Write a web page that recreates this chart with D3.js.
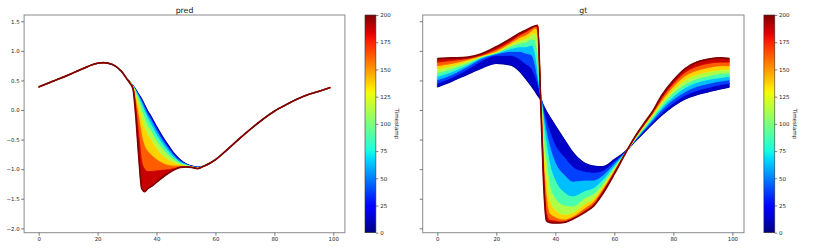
<!DOCTYPE html>
<html><head><meta charset="utf-8">
<script src="https://cdn.jsdelivr.net/npm/d3@7"></script>
<style>body{margin:0;background:#fff}svg{display:block}text{font-family:"DejaVu Sans",sans-serif;fill:#222}</style>
</head><body><svg id="c" width="830" height="249"></svg>
<script>
// ---------------- data ----------------
const timestamps = [0, 25, 50, 75, 100, 125, 150, 175, 200];
const xTicks = [0, 20, 40, 60, 80, 100];
const yTicks = [1.5, 1.0, 0.5, 0.0, -0.5, -1.0, -1.5, -2.0];
const cbTicks = [0, 25, 50, 75, 100, 125, 150, 175, 200];

// pred: all timestamps share these outer parts
const predLeftX = [0, 5, 10, 15, 20, 22, 25, 28];
const predLeftY = [0.39, 0.49, 0.59, 0.70, 0.79, 0.80, 0.77, 0.66];
const predRightX = [56, 60, 64, 68, 72, 76, 80, 84, 88, 92, 96, 99];
const predRightY = [-0.95, -0.84, -0.67, -0.49, -0.32, -0.16, -0.02, 0.09, 0.19, 0.27, 0.33, 0.38];
// pred: region where timestamps differ (one row per timestamp)
const predMidX = [30, 31, 32, 33, 34, 35, 36, 37, 38, 40, 42, 44, 46, 48, 50, 52, 54];
const predMid = [
  [0.53, 0.47, 0.41, 0.34, 0.26, 0.18, 0.08, -0.02, -0.10, -0.28, -0.45, -0.60, -0.74, -0.84, -0.91, -0.95, -0.97],
  [0.53, 0.47, 0.41, 0.33, 0.25, 0.16, 0.06, -0.05, -0.13, -0.31, -0.48, -0.63, -0.76, -0.85, -0.92, -0.95, -0.97],
  [0.53, 0.47, 0.41, 0.32, 0.23, 0.13, 0.02, -0.09, -0.17, -0.36, -0.52, -0.66, -0.78, -0.87, -0.92, -0.96, -0.97],
  [0.53, 0.47, 0.40, 0.31, 0.20, 0.08, -0.04, -0.15, -0.24, -0.43, -0.58, -0.71, -0.81, -0.89, -0.93, -0.96, -0.98],
  [0.53, 0.46, 0.40, 0.28, 0.14, -0.02, -0.15, -0.27, -0.35, -0.53, -0.66, -0.77, -0.85, -0.91, -0.94, -0.96, -0.98],
  [0.53, 0.46, 0.39, 0.22, 0.04, -0.18, -0.32, -0.43, -0.50, -0.66, -0.77, -0.85, -0.90, -0.93, -0.95, -0.97, -0.98],
  [0.52, 0.46, 0.38, 0.13, -0.15, -0.45, -0.62, -0.70, -0.75, -0.84, -0.90, -0.94, -0.95, -0.95, -0.96, -0.97, -0.99],
  [0.52, 0.45, 0.37, 0.02, -0.45, -0.88, -1.00, -1.04, -1.04, -1.03, -1.02, -1.01, -0.99, -0.97, -0.96, -0.97, -0.99],
  [0.52, 0.45, 0.36, -0.12, -0.80, -1.33, -1.38, -1.33, -1.30, -1.22, -1.14, -1.07, -1.01, -0.97, -0.96, -0.97, -0.99]
];

// gt: one row per timestamp
const gtX = [0, 5, 10, 15, 20, 25, 28, 30, 32, 33, 34, 35, 36, 37, 38, 40, 43, 46, 50, 53, 56, 60, 64, 67, 70, 73, 76, 80, 84, 88, 92, 96, 99];
const gtT0   = [0.39, 0.49, 0.60, 0.71, 0.79, 0.76, 0.65, 0.53, 0.40, 0.33, 0.25, 0.18, 0.07, -0.03, -0.11, -0.27, -0.50, -0.72, -0.90, -0.95, -0.96, -0.84, -0.69, -0.53, -0.38, -0.23, -0.09, 0.07, 0.19, 0.26, 0.31, 0.36, 0.39];
const gtT25  = [0.45, 0.55, 0.68, 0.83, 0.92, 0.92, 0.86, 0.78, 0.70, 0.60, 0.45, 0.25, 0.00, -0.20, -0.35, -0.60, -0.80, -0.97, -1.05, -1.07, -1.04, -0.88, -0.70, -0.52, -0.36, -0.20, -0.05, 0.12, 0.25, 0.33, 0.38, 0.43, 0.45];
const gtT50  = [0.51, 0.60, 0.73, 0.87, 0.95, 0.99, 0.99, 0.96, 0.93, 0.80, 0.55, 0.25, -0.08, -0.38, -0.60, -0.90, -1.10, -1.22, -1.20, -1.20, -1.12, -0.92, -0.70, -0.51, -0.34, -0.17, 0.00, 0.18, 0.31, 0.40, 0.45, 0.49, 0.51];
const gtT75  = [0.57, 0.65, 0.76, 0.89, 0.96, 1.04, 1.07, 1.07, 1.10, 1.00, 0.70, 0.25, -0.20, -0.60, -0.90, -1.20, -1.40, -1.47, -1.38, -1.33, -1.20, -0.96, -0.71, -0.50, -0.32, -0.14, 0.04, 0.23, 0.38, 0.47, 0.52, 0.55, 0.57];
const gtT100 = [0.63, 0.70, 0.79, 0.90, 0.97, 1.08, 1.13, 1.15, 1.20, 1.18, 0.95, 0.30, -0.45, -0.90, -1.25, -1.50, -1.62, -1.64, -1.50, -1.43, -1.27, -0.99, -0.71, -0.49, -0.30, -0.11, 0.08, 0.29, 0.44, 0.53, 0.58, 0.62, 0.63];
const gtT125 = [0.69, 0.75, 0.82, 0.91, 0.98, 1.11, 1.18, 1.21, 1.28, 1.30, 1.20, 0.30, -0.70, -1.20, -1.55, -1.70, -1.78, -1.75, -1.60, -1.51, -1.32, -1.02, -0.71, -0.48, -0.28, -0.08, 0.12, 0.34, 0.51, 0.60, 0.65, 0.68, 0.69];
const gtT150 = [0.75, 0.79, 0.85, 0.92, 1.00, 1.14, 1.23, 1.27, 1.34, 1.38, 1.35, 0.30, -0.90, -1.50, -1.75, -1.82, -1.86, -1.81, -1.67, -1.56, -1.36, -1.04, -0.71, -0.47, -0.26, -0.06, 0.16, 0.40, 0.58, 0.67, 0.72, 0.75, 0.75];
const gtT175 = [0.81, 0.84, 0.87, 0.93, 1.03, 1.17, 1.27, 1.32, 1.38, 1.41, 1.42, 0.25, -1.05, -1.75, -1.86, -1.88, -1.90, -1.84, -1.71, -1.60, -1.39, -1.06, -0.71, -0.46, -0.25, -0.04, 0.20, 0.45, 0.64, 0.74, 0.79, 0.81, 0.81];
const gtT200 = [0.87, 0.88, 0.89, 0.95, 1.07, 1.21, 1.30, 1.35, 1.40, 1.42, 1.43, 0.20, -1.20, -1.87, -1.90, -1.91, -1.90, -1.84, -1.73, -1.62, -1.42, -1.08, -0.71, -0.45, -0.23, -0.02, 0.24, 0.50, 0.70, 0.81, 0.86, 0.88, 0.87];
const gtRows = [gtT0, gtT25, gtT50, gtT75, gtT100, gtT125, gtT150, gtT175, gtT200];

// ---------------- helpers ----------------
const jr = [[0,0],[0.35,0],[0.66,1],[0.89,1],[1,0.5]];
const jg = [[0,0],[0.125,0],[0.375,1],[0.64,1],[0.91,0],[1,0]];
const jb = [[0,0.5],[0.11,1],[0.34,1],[0.65,0],[1,0]];
function seg(p, v) {
  for (let i = 0; i < p.length - 1; i++) {
    if (v <= p[i+1][0]) { const f = (v - p[i][0]) / (p[i+1][0] - p[i][0]); return p[i][1] + f * (p[i+1][1] - p[i][1]); }
  }
  return p[p.length-1][1];
}
function jet(v) {
  v = Math.max(0, Math.min(1, v));
  return d3.rgb(255*seg(jr,v), 255*seg(jg,v), 255*seg(jb,v)).formatHex();
}

const svg = d3.select("#c");
const yTop = 15, yBottom = 232.7;
const y = d3.scaleLinear().domain([-2.074, 1.606]).range([yBottom, yTop]);
const tScale = d3.scaleLinear().domain([0, 200]).range([yBottom, yTop]);

const defs = svg.append("defs");
const grad = defs.append("linearGradient").attr("id", "jetg").attr("x1", 0).attr("y1", 1).attr("x2", 0).attr("y2", 0);
d3.range(0, 1.0001, 0.02).forEach(v => grad.append("stop").attr("offset", v).attr("stop-color", jet(v)));

const predCurves = predMid.map(row =>
  predLeftX.map((xv, i) => ({x: xv, y: predLeftY[i]}))
    .concat(predMidX.map((xv, i) => ({x: xv, y: row[i]})))
    .concat(predRightX.map((xv, i) => ({x: xv, y: predRightY[i]}))));
const gtCurves = gtRows.map(row => gtX.map((xv, i) => ({x: xv, y: row[i]})));

const panels = [
  {title: "pred", left: 24.1, right: 344.9, cb: 365, curves: predCurves, yLabels: true},
  {title: "gt", left: 422.7, right: 744.0, cb: 763.9, curves: gtCurves, yLabels: false}
];

panels.forEach(p => {
  const x = d3.scaleLinear().domain([-4.95, 103.95]).range([p.left, p.right]);
  const g = svg.append("g");
  const line = d3.line().x(d => x(d.x)).y(d => y(d.y)).curve(d3.curveMonotoneX);
  g.append("path").attr("d", line(p.curves[0])).attr("fill", "none")
    .attr("stroke", jet(0)).attr("stroke-width", 1.4);
  for (let k = 0; k < p.curves.length - 1; k++) {
    const a = p.curves[k], b = p.curves[k+1];
    const pts = a.map((d, i) => ({x: d.x, a: d.y, b: b[i].y}));
    const area = d3.area().x(d => x(d.x)).y0(d => y(d.a)).y1(d => y(d.b)).curve(d3.curveMonotoneX);
    const col = jet(((timestamps[k] + timestamps[k+1]) / 2) / 200);
    g.append("path").attr("d", area(pts)).attr("fill", col).attr("stroke", col).attr("stroke-width", 0.6);
    g.append("path").attr("d", line(b)).attr("fill", "none")
      .attr("stroke", jet(timestamps[k+1] / 200)).attr("stroke-width", k === p.curves.length - 2 ? 1.7 : 0.9);
  }
  g.append("rect").attr("x", p.left).attr("y", yTop).attr("width", p.right - p.left).attr("height", yBottom - yTop)
    .attr("fill", "none").attr("stroke", "#8a8a8a").attr("stroke-width", 1);
  const xa = g.append("g").attr("transform", `translate(0,${yBottom})`)
    .call(d3.axisBottom(x).tickValues(xTicks).tickSize(3).tickPadding(1.6).tickSizeOuter(0));
  const ya = g.append("g").attr("transform", `translate(${p.left},0)`)
    .call(d3.axisLeft(y).tickValues(yTicks).tickSize(3).tickPadding(1.5).tickSizeOuter(0)
      .tickFormat(p.yLabels ? (d => d3.format(".1f")(d).replace("-", "\u2212")) : () => ""));
  [xa, ya].forEach(a => {
    a.select(".domain").remove();
    a.selectAll("line").attr("stroke", "#444").attr("stroke-width", 0.7);
    a.selectAll("text").attr("font-size", 5.4).attr("fill", "#222").attr("font-family", "DejaVu Sans");
  });
  g.append("text").attr("x", (p.left + p.right) / 2).attr("y", 12.5).attr("text-anchor", "middle")
    .attr("font-size", 7.8).text(p.title);
  const cw = 10.9;
  g.append("rect").attr("x", p.cb).attr("y", yTop).attr("width", cw).attr("height", yBottom - yTop)
    .attr("fill", "url(#jetg)").attr("stroke", "#333").attr("stroke-width", 0.6);
  const ca = g.append("g").attr("transform", `translate(${p.cb + cw},0)`)
    .call(d3.axisRight(tScale).tickValues(cbTicks).tickSize(2.5).tickPadding(1.8).tickSizeOuter(0));
  ca.select(".domain").remove();
  ca.selectAll("line").attr("stroke", "#333").attr("stroke-width", 0.6);
  ca.selectAll("text").attr("font-size", 5.5).attr("fill", "#222").attr("font-family", "DejaVu Sans");
  g.append("text").attr("transform", `translate(${p.cb + 29.5},${(yTop + yBottom) / 2}) rotate(90)`)
    .attr("text-anchor", "middle").attr("font-size", 5.5).text("Timestamp");
});
</script></body></html>
